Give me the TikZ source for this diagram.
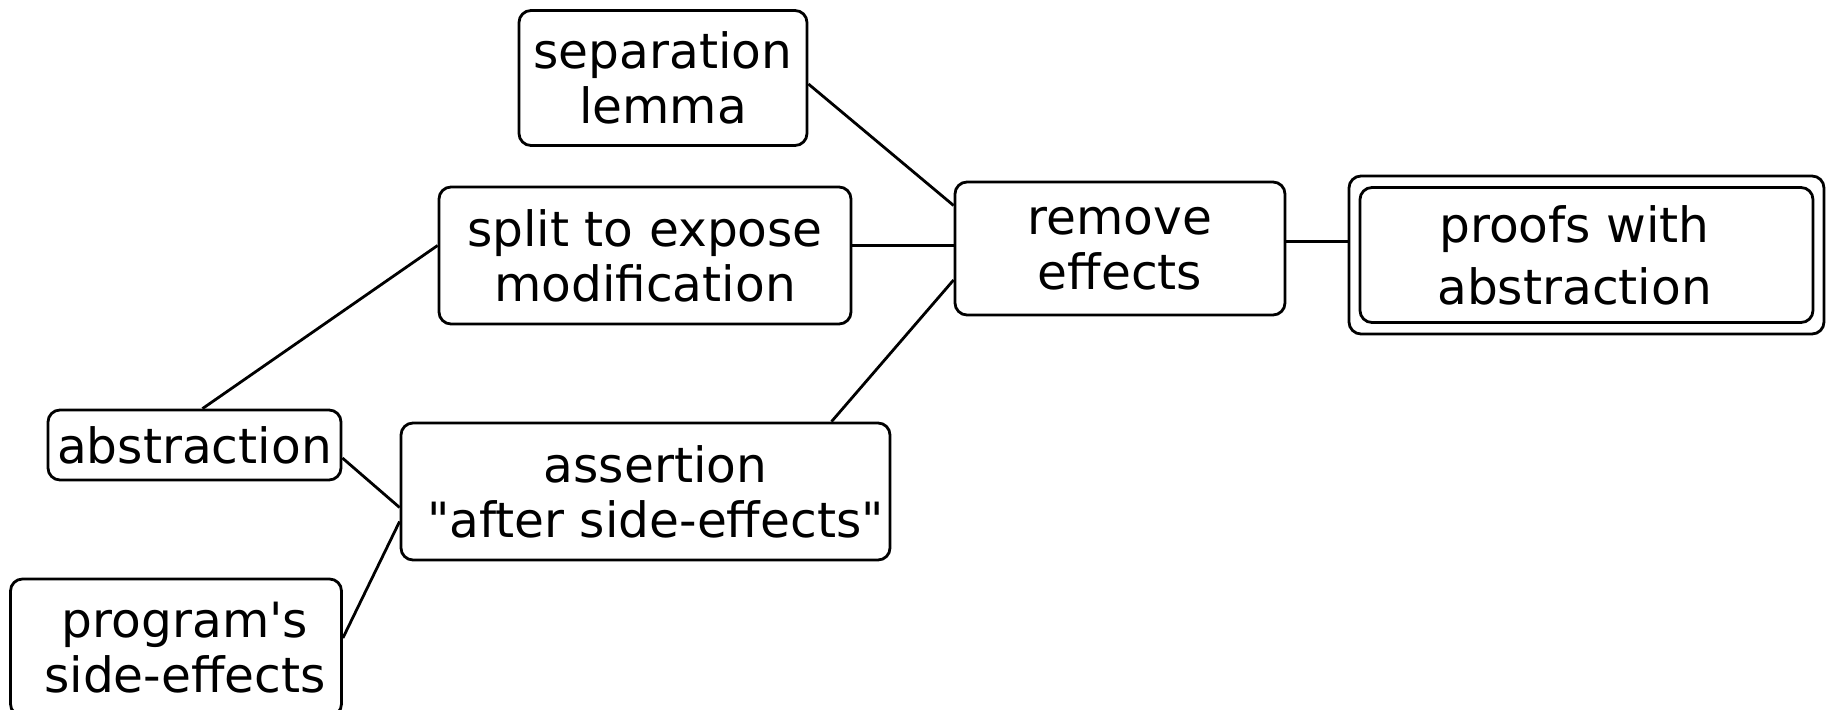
\documentclass[tikz,border=0pt]{standalone}
\usepackage{fontspec}
\setmainfont{DejaVu Sans}[Ligatures=TeXOff]
\begin{document}
\begin{tikzpicture}[x=0.5pt,y=-0.5pt,
  box/.style={draw, line width=1.4pt, rounded corners=6pt, inner sep=0pt, align=center,
    font=\fontsize{24.3}{27.5}\selectfont},
  link/.style={line width=1.4pt}]
\useasboundingbox (0,0) rectangle (1832,710);
\node[box, minimum width=144pt, minimum height=67.5pt] (sep) at (663,78) {separation\\lemma};
\node[box, minimum width=206pt, minimum height=68.5pt] (split) at (645,255.5) {split to expose\\modification};
\node[box, minimum width=165pt, minimum height=66.5pt] (rem) at (1120,248.5) {remove\\effects};
\node[draw, line width=1.4pt, rounded corners=6pt, minimum width=237.5pt, minimum height=79pt, inner sep=0pt] (proofsout) at (1586.5,255) {};
\node[box, minimum width=226.5pt, minimum height=67.5pt, font=\fontsize{24.3}{31}\selectfont] (proofs) at (1586.5,255) {proofs with\hspace*{12pt}\\abstraction\hspace*{12pt}};
\node[box, minimum width=146.5pt, minimum height=35pt] (abs) at (194.5,445) {abstraction};
\node[box, minimum width=244.5pt, minimum height=68.5pt] (asrt) at (645.5,491.5) {\hspace*{10pt}assertion\\\hspace*{10pt}"after side-effects"};
\node[box, minimum width=165.5pt, minimum height=68.5pt] (prog) at (176,647.5) {\hspace*{9pt}program's\\\hspace*{9pt}side-effects};
\draw[link] ([yshift=-3pt]sep.east) -- ([yshift=21.5pt]rem.west);
\coordinate (s1) at ([yshift=5pt]split.east);
\draw[link] (s1) -- (s1 -| rem.west);
\draw[link] ([xshift=93pt]asrt.north) -- ([yshift=-15.75pt]rem.west);
\coordinate (r1) at ([yshift=3.5pt]rem.east);
\draw[link] (r1) -- (r1 -| proofsout.west);
\draw[link] ([xshift=4pt]abs.north) -- ([yshift=5pt]split.west);
\draw[link] ([yshift=-6.5pt]abs.east) -- ([yshift=-8pt]asrt.west);
\draw[link] ([yshift=4.75pt]prog.east) -- ([yshift=-15pt]asrt.west);
\end{tikzpicture}
\end{document}
